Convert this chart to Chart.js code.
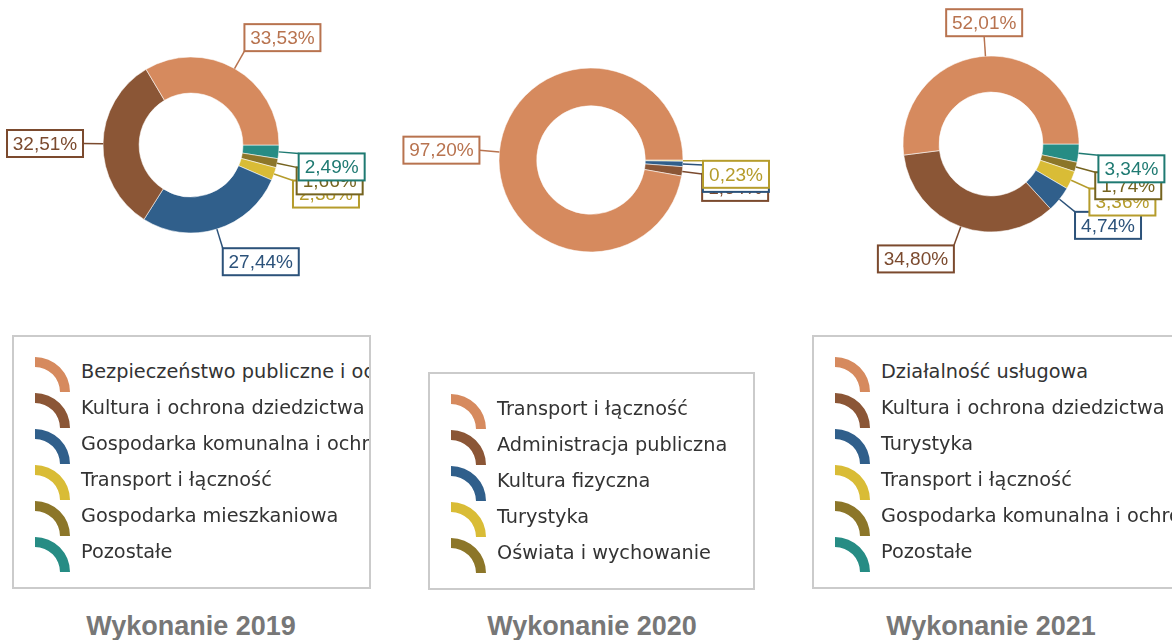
<!DOCTYPE html>
<html lang="pl">
<head>
<meta charset="utf-8">
<title>Wykonanie 2019–2021</title>
<script src="https://cdn.jsdelivr.net/npm/chart.js@4.4.1/dist/chart.umd.min.js"></script>
<style>
  html, body { margin: 0; padding: 0; background: #fff; }
  body { position: relative; width: 1172px; height: 640px; overflow: hidden; font-family: "DejaVu Sans", Verdana, sans-serif; }
  canvas.donut { position: absolute; top: 0; }
  .legend { position: absolute; box-sizing: border-box; border: 2px solid #cbcbcb; background: #fff; padding: 17px 0 17px 21px; overflow: hidden; }
  .legend .item { position: relative; height: 36px; line-height: 36px; padding-left: 46px; white-space: nowrap; font-size: 19.3px; color: #333; }
  .legend .item canvas { position: absolute; left: 0; top: 3px; }
  .title { position: absolute; top: 611px; width: 400px; margin-left: -200px; text-align: center; line-height: 30px; font: bold 27px "Liberation Sans", Arial, sans-serif; color: #777; }
</style>
</head>
<body>
<canvas class="donut" id="c2019" width="390" height="300" style="left:0"></canvas>
<canvas class="donut" id="c2020" width="390" height="300" style="left:400px"></canvas>
<canvas class="donut" id="c2021" width="382" height="300" style="left:790px"></canvas>

<div class="legend" id="l2019" style="left:12px;top:335px;width:359px"></div>
<div class="legend" id="l2020" style="left:428px;top:372px;width:327px"></div>
<div class="legend" id="l2021" style="left:812px;top:335px;width:370px"></div>

<div class="title" style="left:191px">Wykonanie 2019</div>
<div class="title" style="left:592px">Wykonanie 2020</div>
<div class="title" style="left:991px">Wykonanie 2021</div>

<script>
// kategorie i udziały (%) dla poszczególnych lat
const CATEGORIES_2019 = ['Bezpieczeństwo publiczne i ochrona przeciwpożarowa', 'Kultura i ochrona dziedzictwa narodowego', 'Gospodarka komunalna i ochrona środowiska', 'Transport i łączność', 'Gospodarka mieszkaniowa', 'Pozostałe'];
const SHARES_2019 = [33.53, 32.51, 27.44, 2.38, 1.66, 2.49];

const CATEGORIES_2020 = ['Transport i łączność', 'Administracja publiczna', 'Kultura fizyczna', 'Turystyka', 'Oświata i wychowanie'];
const SHARES_2020 = [97.20, 1.64, 0.93, 0.23, 0];

const CATEGORIES_2021 = ['Działalność usługowa', 'Kultura i ochrona dziedzictwa narodowego', 'Turystyka', 'Transport i łączność', 'Gospodarka komunalna i ochrona środowiska', 'Pozostałe'];
const SHARES_2021 = [52.01, 34.80, 4.74, 3.36, 1.74, 3.34];

const SLICE_COLORS = ['#d68a5e', '#8b5636', '#305f8b', '#d9bc36', '#8c7629', '#268c84'];
const LABEL_COLORS = ['#b8734f', '#7b4a2e', '#2c527a', '#b59c2c', '#75631f', '#1f7a72'];

const fmt = (v) => v.toFixed(2).replace('.', ',') + '%';

// etykiety w ramkach z linią odniesienia od krawędzi wycinka
const calloutPlugin = {
  id: 'callouts',
  afterDatasetsDraw(chart) {
    const ctx = chart.ctx;
    const meta = chart.getDatasetMeta(0);
    const ds = chart.data.datasets[0];
    const colors = ds.labelColors;
    ctx.save();
    ctx.font = '19px "Liberation Sans", Arial, sans-serif';
    ctx.textAlign = 'center';
    ctx.textBaseline = 'middle';
    // dane są odwrócone, więc rysujemy od końca -> ostatnia kategoria na wierzchu
    for (let i = meta.data.length - 1; i >= 0; i--) {
      const v = ds.data[i];
      if (!v) continue;
      const arc = meta.data[i];
      const { x, y, startAngle, endAngle, outerRadius } = arc.getProps(['x', 'y', 'startAngle', 'endAngle', 'outerRadius'], true);
      const mid = (startAngle + endAngle) / 2;
      const c = Math.cos(mid), s = Math.sin(mid);
      const x0 = x + c * outerRadius, y0 = y + s * outerRadius;
      const x1 = x0 + c * 20, y1 = y0 + s * 20;
      const text = fmt(v);
      const w = Math.round(ctx.measureText(text).width) + 12;
      const h = 27;
      const bx = c > 0.1 ? x1 : c < -0.1 ? x1 - w : x1 - w / 2;
      let by;
      if (s < -0.1) by = y1 - h;
      else if (s > 0.1) by = y1;
      else if (c < 0) by = y1 - h / 2;
      else by = s < 0 ? y1 - h : y1;

      ctx.strokeStyle = colors[i];
      ctx.lineWidth = 1.5;
      ctx.beginPath();
      ctx.moveTo(x0, y0);
      ctx.lineTo(x1, y1);
      ctx.stroke();

      ctx.fillStyle = '#fff';
      ctx.fillRect(bx, by, w, h);
      ctx.lineWidth = 2;
      ctx.strokeRect(bx, by, w, h);
      ctx.fillStyle = colors[i];
      ctx.fillText(text, bx + w / 2, by + h / 2 + 1);
    }
    ctx.restore();
  }
};

function makeDonut(id, shares, cx, cy, r) {
  const canvas = document.getElementById(id);
  const half = r + 0.5;
  const n = shares.length;
  // Chart.js rysuje zgodnie z ruchem wskazówek, więc odwracamy kolejność
  const data = shares.slice().reverse();
  const bg = SLICE_COLORS.slice(0, n).reverse();
  const lc = LABEL_COLORS.slice(0, n).reverse();
  return new Chart(canvas, {
    type: 'doughnut',
    data: {
      labels: data.map((_, i) => i),
      datasets: [{
        data,
        backgroundColor: bg,
        labelColors: lc,
        borderColor: 'rgba(255,255,255,0.55)',
        borderWidth: 1,
      }],
    },
    options: {
      responsive: false,
      animation: false,
      rotation: 90,
      cutout: '59%',
      layout: {
        padding: { left: cx - half, right: canvas.width - cx - half, top: cy - half, bottom: canvas.height - cy - half },
      },
      plugins: { legend: { display: false }, tooltip: { enabled: false } },
    },
    plugins: [calloutPlugin],
  });
}

function legendIcon(color) {
  const cv = document.createElement('canvas');
  cv.width = 37;
  cv.height = 36;
  const g = cv.getContext('2d');
  g.fillStyle = color;
  g.beginPath();
  g.arc(0, 35, 35, -Math.PI / 2, 0);
  g.arc(0, 35, 25, 0, -Math.PI / 2, true);
  g.closePath();
  g.fill();
  return cv;
}

function buildLegend(id, categories) {
  const box = document.getElementById(id);
  categories.forEach((name, i) => {
    const row = document.createElement('div');
    row.className = 'item';
    row.appendChild(legendIcon(SLICE_COLORS[i]));
    row.appendChild(document.createTextNode(name));
    box.appendChild(row);
  });
}

makeDonut('c2019', SHARES_2019, 191, 145, 88);
makeDonut('c2020', SHARES_2020, 191, 160, 92);
makeDonut('c2021', SHARES_2021, 201, 144, 88);

buildLegend('l2019', CATEGORIES_2019);
buildLegend('l2020', CATEGORIES_2020);
buildLegend('l2021', CATEGORIES_2021);
</script>
</body>
</html>
